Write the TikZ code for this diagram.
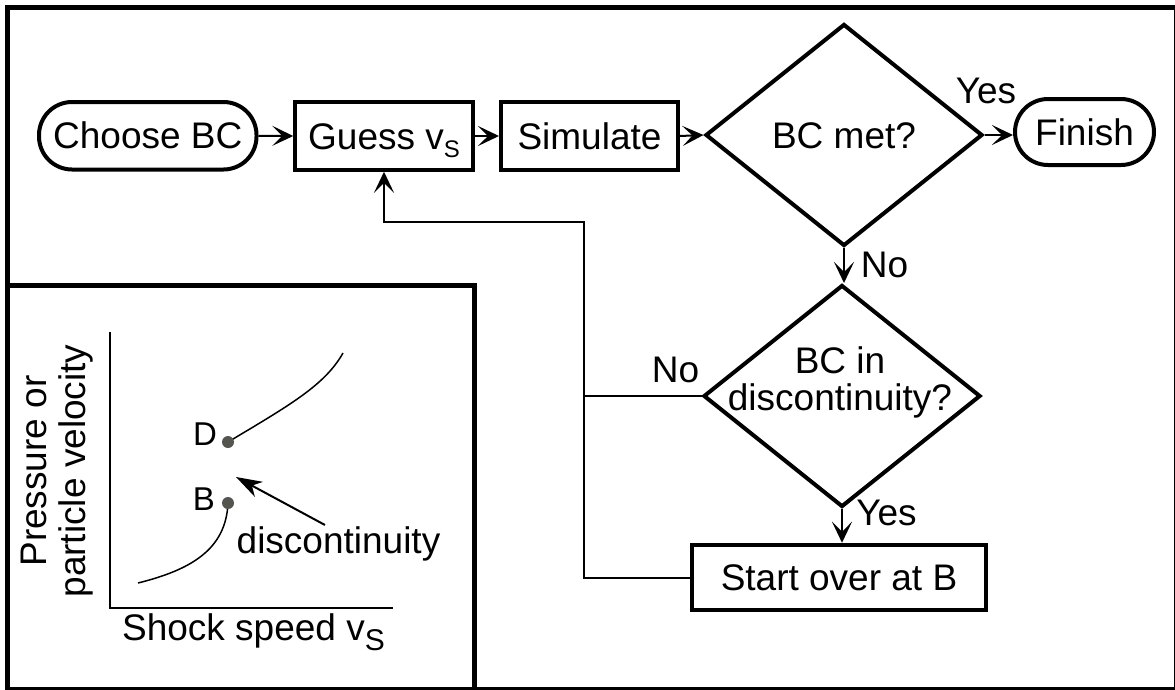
\documentclass[tikz,border=0pt]{standalone}
\usepackage{fontspec}
\setmainfont{Liberation Sans}
\usetikzlibrary{arrows.meta,shapes.geometric,calc}
\definecolor{dotgray}{RGB}{85,85,80}
\begin{document}
\begin{tikzpicture}[x=1pt,y=-1pt,
  every node/.style={font=\fontsize{37}{40}\selectfont, inner sep=0pt},
  box/.style={draw,line width=4pt,text height=26pt,text depth=0pt},
  term/.style={box,rounded corners=33pt},
  dia/.style={draw,shape=diamond,line width=4pt,minimum width=277pt,minimum height=222pt,text height=26pt,text depth=0pt},
  conn/.style={line width=2pt},
  arr/.style={conn,-{Stealth[length=21pt,width=20pt,inset=10pt]}},
  lab/.style={anchor=base},
  dot/.style={circle,fill=dotgray,minimum size=12pt},
  curve/.style={line width=1.5pt}
]
\useasboundingbox (0,0) rectangle (1175,689);
\clip (0,0) rectangle (1175,689);
% frames
\draw[line width=5pt] (7.5,7.5) rectangle (1176.5,689.5);
\draw[line width=5pt] (7.5,285.5) rectangle (474.5,690);

% flowchart nodes
\node[term,minimum width=217.5pt,minimum height=67.5pt] (choose) at (147.75,135.75) {Choose BC};
\node[box,minimum width=177.5pt,minimum height=67.5pt] (guess) at (384,136) {Guess v\raisebox{-8pt}{\fontsize{24}{24}\selectfont S}};
\node[box,minimum width=177pt,minimum height=67.5pt] (sim) at (589.5,136) {Simulate};
\node[dia] (d1) at (844,135) {BC met?};
\node[term,minimum width=139pt,minimum height=66pt] (fin) at (1084.5,132) {Finish};
\node[dia] (d2) at (842,396) {};
\node[align=center,font=\fontsize{37}{37}\selectfont] (d2t) at (840,382) {BC in\\discontinuity?};
\node[box,minimum width=294pt,minimum height=65.5pt] (start) at (839,577.5) {Start over at B};

% labels
\node[lab] (yes1) at (986,103) {Yes};
\node[lab] (no1) at (884.5,277) {No};
\node[lab] (no2) at (675.5,382) {No};
\node[lab] (yes2) at (886.5,525) {Yes};

% connectors
\coordinate (jn) at (584,222);
\draw[arr] (choose.east) -- (guess.west);
\draw[arr] (guess.east) -- (sim.west);
\draw[arr] (sim.east) -- (d1.west);
\draw[arr] (d1.east) -- (d1.east -| fin.west);
\draw[arr] (d1.south) -- (d1.south |- d2.north);
\draw[arr] (d2.south) -- (d2.south |- start.north);
\draw[arr] (start.west) -| (jn) -| (guess.south);
\draw[conn] (d2.west) -- (d2.west -| jn);

% inset plot
\draw[line width=2pt] (110,332) -- (110,608) -- (393,608);
\node[rotate=90,align=center,font=\fontsize{37}{39}\selectfont] (ylab) at (57.5,471) {Pressure or\\particle velocity};
\node[lab] (xlab) at (253.5,640) {Shock speed v\raisebox{-10pt}{\fontsize{30}{30}\selectfont S}};
\draw[curve] (228,442) .. controls (290,405) and (325,385) .. (343,353);
\draw[curve] (228,503) .. controls (226,550) and (190,570) .. (138,583);
\node[dot] (ddot) at (228,442) {};
\node[dot] (bdot) at (228,503) {};
\node[lab,font=\fontsize{33}{33}\selectfont] (dl) at (205,445) {D};
\node[lab,font=\fontsize{33}{33}\selectfont] (bl) at (204,510) {B};
\node[lab] (disc) at (338.5,553) {discontinuity};
\coordinate (atail) at (325,525);
\coordinate (ahead) at (236,477);
\draw[line width=2pt,-{Stealth[length=26pt,width=17pt,inset=8pt]}] (atail) -- (ahead);
\end{tikzpicture}
\end{document}
